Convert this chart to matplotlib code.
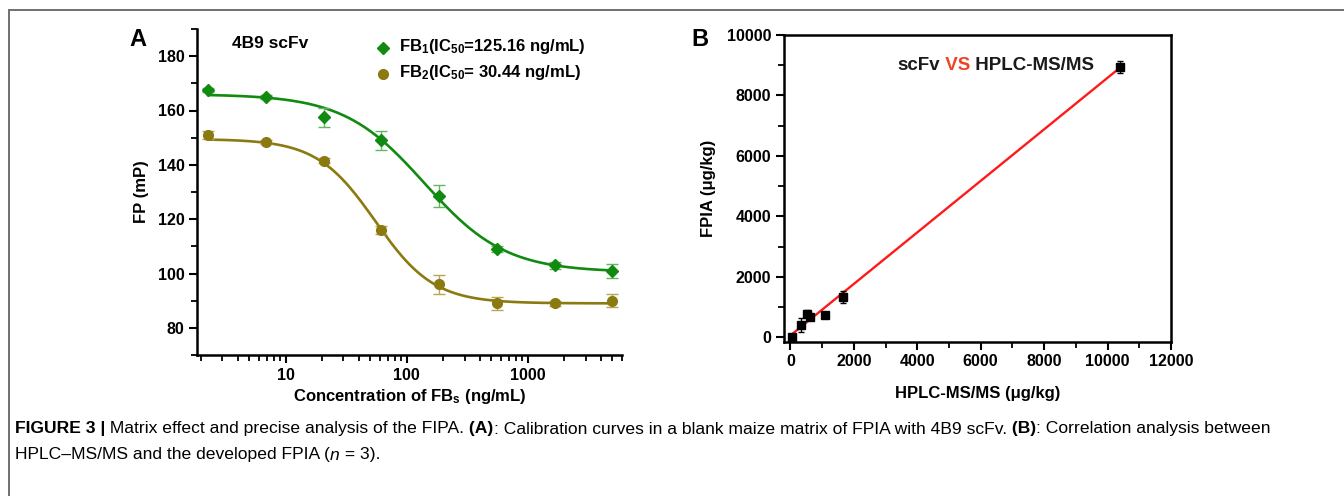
import numpy as np
import matplotlib
matplotlib.use("Agg")
import matplotlib.pyplot as plt
from matplotlib.lines import Line2D
from matplotlib.ticker import MultipleLocator, LogLocator, NullFormatter, FuncFormatter

plt.rcParams['font.family'] = ['Liberation Sans', 'DejaVu Sans']
plt.rcParams['mathtext.default'] = 'regular'

#===================================================================================#
## data, panel A (threefold dilution series)
conc = [2.29, 6.86, 20.6, 61.7, 185.2, 555.6, 1666.7, 5000.0]
fb1_fp = [167.5, 165.0, 157.5, 149.0, 128.5, 109.0, 103.0, 101.0]
fb1_err = [0.8, 0.8, 3.5, 3.5, 4.0, 1.0, 1.3, 2.5]
fb2_fp = [151.0, 148.5, 141.5, 116.0, 96.0, 89.0, 89.0, 90.0]
fb2_err = [1.5, 0.8, 1.0, 1.5, 3.5, 2.5, 0.8, 2.5]
# 4PL parameters: top, bottom, midpoint, hill slope
fb1_fit = [166.0, 100.5, 140.0, 1.3]
fb2_fit = [149.5, 89.0, 55.0, 1.8]
fb1_label = "FB$_1$(IC$_{50}$=125.16 ng/mL)"
fb2_label = "FB$_2$(IC$_{50}$= 30.44 ng/mL)"

## data, panel B
hplc = [50, 340, 520, 620, 1080, 1650, 10400]
fpia = [20, 410, 790, 680, 750, 1340, 8950]
fpia_err = [60, 230, 110, 60, 50, 200, 200]

## plot parameters
W, H = 1344, 496
green = '#118a11'
green_err = '#5fb85f'
olive = '#8a7a10'
olive_err = '#b3a655'
fs_tick = 11.5
fs_lab = 12

#===================================================================================#
def four_pl(x, p):
    top, bottom, c, h = p
    return bottom + (top - bottom) / (1 + (x / c) ** h)

def px(x, y):
    return x / W, 1 - y / H

def style_axis(ax):
    ax.tick_params(axis='both', which='major', direction='out', length=6, width=1.5,
                   labelsize=fs_tick, pad=3)
    ax.tick_params(axis='both', which='minor', direction='out', length=4, width=1.3)
    for lab in ax.get_xticklabels() + ax.get_yticklabels():
        lab.set_fontweight('bold')

fig = plt.figure(figsize=(W / 100, H / 100), dpi=100)

# grey frame (top and left)
fig.add_artist(Line2D([9 / W, 1], [1 - 10 / H, 1 - 10 / H], color='#707070', lw=1.4))
fig.add_artist(Line2D([9 / W, 9 / W], [0, 1 - 10 / H], color='#707070', lw=1.4))

#-------------------------------- panel A ------------------------------------------#
axA = fig.add_axes([197 / W, 1 - 355 / H, 425 / W, 326 / H])
xs = np.logspace(np.log10(conc[0]), np.log10(conc[-1]), 300)
axA.plot(xs, four_pl(xs, fb1_fit), color=green, lw=1.9, zorder=2)
axA.plot(xs, four_pl(xs, fb2_fit), color=olive, lw=1.9, zorder=2)
axA.errorbar(conc, fb1_fp, yerr=fb1_err, fmt='none', ecolor=green_err, elinewidth=1.0,
             capsize=4, capthick=1.0, zorder=3)
axA.errorbar(conc, fb2_fp, yerr=fb2_err, fmt='none', ecolor=olive_err, elinewidth=1.0,
             capsize=4, capthick=1.0, zorder=3)
axA.plot(conc, fb1_fp, 'D', color=green, ms=6.5, ls='none', zorder=4)
axA.plot(conc, fb2_fp, 'o', color=olive, ms=7, ls='none', zorder=4)

axA.set_xscale('log')
axA.set_xlim(1.85, 6000)
axA.set_ylim(70, 190)
axA.xaxis.set_major_locator(LogLocator(base=10, numticks=10))
axA.xaxis.set_major_formatter(FuncFormatter(lambda v, pos: "%d" % round(v)))
axA.xaxis.set_minor_locator(LogLocator(base=10, subs=np.arange(2, 10), numticks=20))
axA.xaxis.set_minor_formatter(NullFormatter())
axA.yaxis.set_minor_locator(MultipleLocator(10))
axA.set_yticks([80, 100, 120, 140, 160, 180])
axA.spines['top'].set_visible(False)
axA.spines['right'].set_visible(False)
axA.spines['left'].set_linewidth(1.8)
axA.spines['bottom'].set_linewidth(1.8)
style_axis(axA)
axA.set_xlabel("Concentration of FB$_s$ (ng/mL)", fontsize=fs_lab, fontweight='bold', labelpad=3)
axA.set_ylabel("FP (mP)", fontsize=fs_lab, fontweight='bold', labelpad=6)

fig.text(*px(138, 40), "A", fontsize=17, fontweight='bold', ha='center', va='center')
fig.text(*px(270, 44), "4B9 scFv", fontsize=12.5, fontweight='bold', ha='center', va='center')
# legend
fig.add_artist(Line2D([383 / W], [1 - 48 / H], marker='D', color=green, ms=6.5, ls='none'))
fig.add_artist(Line2D([383 / W], [1 - 74 / H], marker='o', color=olive, ms=7, ls='none'))
fig.text(*px(399, 47), fb1_label, fontsize=12, fontweight='bold', ha='left', va='center')
fig.text(*px(399, 73), fb2_label, fontsize=12, fontweight='bold', ha='left', va='center')

#-------------------------------- panel B ------------------------------------------#
axB = fig.add_axes([784 / W, 1 - 342 / H, 387 / W, 307 / H])
coef = np.polyfit(hplc, fpia, 1)
xl = np.array([min(hplc), max(hplc)])
axB.plot(xl, np.polyval(coef, xl), color='#ff1a1a', lw=1.7, zorder=2)
axB.errorbar(hplc, fpia, yerr=fpia_err, fmt='s', color='black', ms=5.5, ecolor='black',
             elinewidth=1.0, capsize=2.5, capthick=1.0, zorder=3)
axB.set_xlim(-200, 12000)
axB.set_ylim(-150, 10000)
axB.xaxis.set_major_locator(MultipleLocator(2000))
axB.xaxis.set_minor_locator(MultipleLocator(1000))
axB.yaxis.set_major_locator(MultipleLocator(2000))
axB.yaxis.set_minor_locator(MultipleLocator(1000))
for s in axB.spines.values():
    s.set_linewidth(1.8)
style_axis(axB)
axB.set_xlabel("HPLC-MS/MS (\u03bcg/kg)", fontsize=fs_lab, fontweight='bold', labelpad=12)
axB.set_ylabel("FPIA (\u03bcg/kg)", fontsize=fs_lab, fontweight='bold', labelpad=8)

fig.text(*px(700, 40), "B", fontsize=17, fontweight='bold', ha='center', va='center')

# "scFv VS HPLC-MS/MS" title inside panel B
renderer = fig.canvas.get_renderer()

def rich(x, y, pieces, size, va='center'):
    # pieces: (text, weight, style, color); x, y in pixels from top-left
    for text, weight, style, color in pieces:
        t = fig.text(*px(x, y), text, fontsize=size, fontweight=weight, fontstyle=style,
                     color=color, ha='left', va=va)
        x += t.get_window_extent(renderer).width
    return x

rich(897, 66, [("scFv", 'bold', 'normal', '#1a1a1a'),
               (" VS", 'bold', 'normal', '#ee4422'),
               (" HPLC-MS/MS", 'bold', 'normal', '#1a1a1a')], 13.5)

#-------------------------------- caption ------------------------------------------#
cap = 12.6
rich(15, 429, [("FIGURE 3 |", 'bold', 'normal', 'black'),
               (" Matrix effect and precise analysis of the FIPA.", 'normal', 'normal', 'black'),
               (" (A)", 'bold', 'normal', 'black'),
               (": Calibration curves in a blank maize matrix of FPIA with 4B9 scFv.", 'normal', 'normal', 'black'),
               (" (B)", 'bold', 'normal', 'black'),
               (": Correlation analysis between", 'normal', 'normal', 'black')], cap)
rich(15, 455, [("HPLC\u2013MS/MS and the developed FPIA (", 'normal', 'normal', 'black'),
               ("n", 'normal', 'italic', 'black'),
               (" = 3).", 'normal', 'normal', 'black')], cap)

fig.savefig("out.png", dpi=100)
